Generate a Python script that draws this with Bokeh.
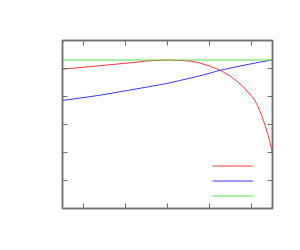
from bokeh.plotting import figure
from bokeh.models import Legend, LegendItem, LinearAxis, FixedTicker, Range1d
from bokeh.embed import file_html
from bokeh.resources import INLINE

# data
red_x = [-0.495, 0.393, 1.179, 1.583, 1.988, 2.298, 2.536, 2.774, 3.012, 3.25, 3.488, 3.726, 3.845, 3.964, 4.06, 4.155, 4.226, 4.298, 4.4, 4.495]
red_y = [4.979, 5.100, 5.214, 5.279, 5.300, 5.285, 5.264, 5.196, 5.082, 4.939, 4.736, 4.457, 4.279, 4.082, 3.904, 3.636, 3.386, 3.082, 2.6, 2.011]
blue_x = [-0.495, 0.393, 1.179, 1.988, 2.774, 3.012, 3.25, 3.845, 4.495]
blue_y = [3.857, 4.046, 4.25, 4.464, 4.739, 4.836, 4.936, 5.125, 5.31]
green_x = [-0.5, 4.5]
green_y = [5.304, 5.304]
x_ticks = [0, 1, 2, 3, 4]
y_ticks = [1, 2, 3, 4, 5]

p = figure(width=292, height=242, frame_width=210, frame_height=168,
           output_backend="svg", toolbar_location=None,
           x_range=Range1d(-0.5, 4.5), y_range=Range1d(0, 6),
           x_axis_location=None, y_axis_location=None,
           min_border_left=62, min_border_top=40, min_border_right=20, min_border_bottom=34)
p.grid.visible = False
p.background_fill_color = "white"
p.border_fill_color = "white"
p.outline_line_color = "#707070"
p.outline_line_width = 1.5

for side, ticks in (("below", x_ticks), ("above", x_ticks), ("left", y_ticks), ("right", y_ticks)):
    ax = LinearAxis(ticker=FixedTicker(ticks=ticks))
    ax.major_tick_in = 5
    ax.major_tick_out = 0
    ax.minor_tick_line_color = None
    ax.major_label_text_color = None
    ax.axis_line_color = "#707070"
    ax.axis_line_width = 1.5
    ax.major_tick_line_color = "#707070"
    ax.major_tick_line_width = 1
    p.add_layout(ax, side)

r1 = p.line(red_x, red_y, line_color="#ff3a3a", line_width=1)
r2 = p.line(blue_x, blue_y, line_color="#3a3aff", line_width=1)
r3 = p.line(green_x, green_y, line_color="#50e050", line_width=1)

legend = Legend(items=[LegendItem(label=" ", renderers=[r1]),
                       LegendItem(label=" ", renderers=[r2]),
                       LegendItem(label=" ", renderers=[r3])],
                location=(150, 5), glyph_width=41, glyph_height=15, spacing=0,
                padding=0, margin=0, label_standoff=0, label_width=0,
                label_text_color=None, border_line_color=None,
                background_fill_alpha=0)
p.add_layout(legend, "center")

open("out.html", "w").write(file_html(p, INLINE))
